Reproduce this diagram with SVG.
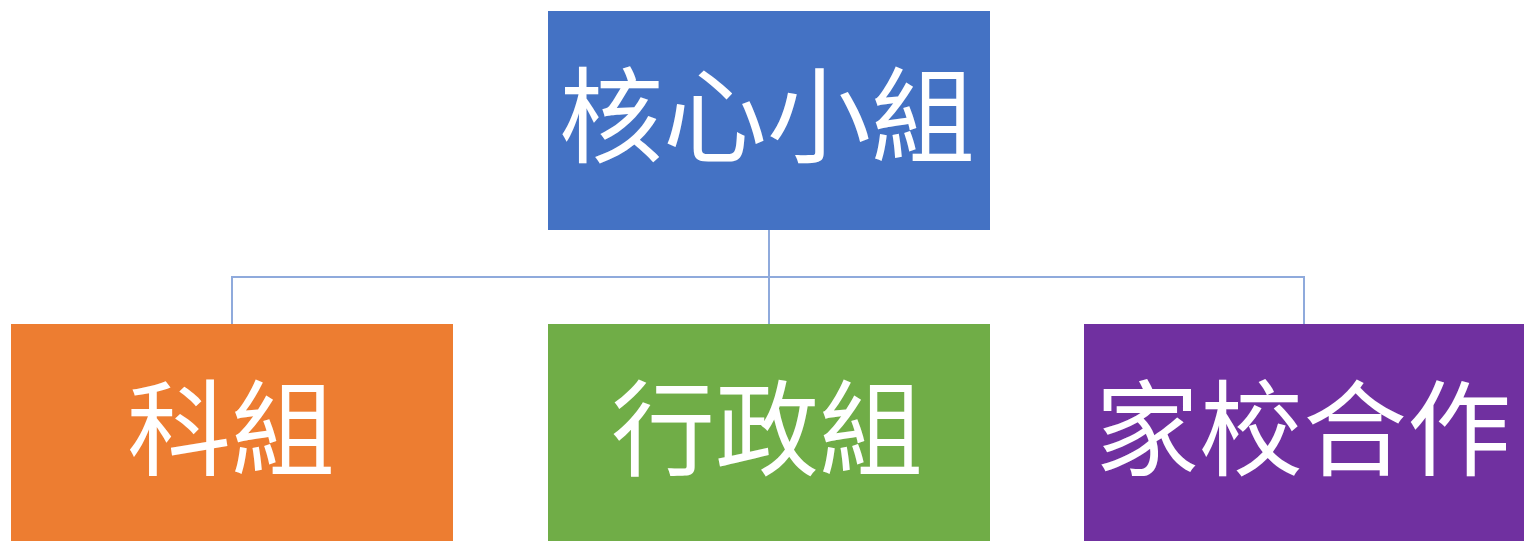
<svg xmlns="http://www.w3.org/2000/svg" width="1524" height="541" viewBox="0 0 1524 541">
<style>
.box{stroke:none}
.lbl{font-family:"Noto Sans CJK TC","Noto Sans CJK SC",sans-serif;font-size:104px;fill:#ffffff;text-anchor:middle}
.conn{fill:none;stroke:#8FAADC;stroke-width:2}
</style>
<rect width="1524" height="541" fill="#ffffff"/>
<g id="connectors">
<path class="conn" d="M769,230 V277"/>
<path class="conn" d="M232,324 V277 H1304 V324"/>
<path class="conn" d="M769,277 V324"/>
</g>
<g id="node-core">
<rect class="box" x="548" y="11" width="442" height="219" fill="#4472C4"/>
<text class="lbl" x="767" y="155">核心小組</text>
</g>
<g id="node-subject">
<rect class="box" x="11" y="324" width="442" height="230" fill="#ED7D31"/>
<text class="lbl" x="231" y="468">科組</text>
</g>
<g id="node-admin">
<rect class="box" x="548" y="324" width="442" height="230" fill="#70AD47"/>
<text class="lbl" x="767" y="468">行政組</text>
</g>
<g id="node-homeschool">
<rect class="box" x="1084" y="324" width="450" height="230" fill="#7030A0"/>
<text class="lbl" x="1303" y="468">家校合作</text>
</g>
</svg>
